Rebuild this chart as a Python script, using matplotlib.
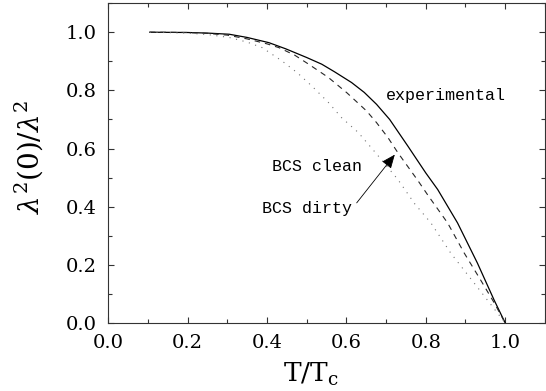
import matplotlib
matplotlib.use("Agg")
import matplotlib.pyplot as plt
from matplotlib.ticker import MultipleLocator

# values
t_exp = [0.105, 0.20, 0.25, 0.305, 0.35, 0.405, 0.447, 0.50, 0.538, 0.57,
         0.613, 0.645, 0.676, 0.709, 0.755, 0.80, 0.83, 0.88, 0.93, 0.972, 1.0]
exp = [1.0, 0.999, 0.997, 0.993, 0.982, 0.964, 0.943, 0.913, 0.89, 0.864,
       0.827, 0.793, 0.752, 0.70, 0.608, 0.516, 0.459, 0.344, 0.206, 0.079, 0.0]

t_clean = [0.105, 0.20, 0.25, 0.30, 0.35, 0.40, 0.43, 0.47, 0.505, 0.555,
           0.601, 0.651, 0.676, 0.705, 0.73, 0.78, 0.805, 0.855, 0.897, 0.938,
           0.972, 1.0]
clean = [1.0, 0.999, 0.996, 0.99, 0.977, 0.96, 0.947, 0.921, 0.89, 0.844,
         0.792, 0.729, 0.689, 0.637, 0.585, 0.49, 0.44, 0.344, 0.24, 0.148,
         0.07, 0.0]

t_dirty = [0.105, 0.20, 0.25, 0.305, 0.35, 0.388, 0.438, 0.476, 0.513, 0.555,
           0.588, 0.63, 0.68, 0.73, 0.772, 0.813, 0.863, 0.922, 0.955, 1.0]
dirty = [1.0, 0.997, 0.992, 0.982, 0.966, 0.947, 0.901, 0.861, 0.815, 0.758,
         0.706, 0.655, 0.575, 0.493, 0.41, 0.344, 0.24, 0.137, 0.079, 0.0]

plt.rcParams["font.family"] = ["DejaVu Serif"]
plt.rcParams["mathtext.fontset"] = "dejavuserif"

fig = plt.figure(figsize=(5.46, 3.91), dpi=100)
ax = fig.add_axes([0.198, 0.174, 0.800, 0.818])

ax.plot(t_exp, exp, color="k", lw=0.9)
ax.plot(t_clean, clean, color="0.15", lw=0.8, dashes=(5, 4.5))
ax.plot(t_dirty, dirty, color="0.45", lw=0.8, dashes=(1, 5))

mono = "Liberation Mono"
ax.text(0.70, 0.766, "experimental", family=mono, fontsize=12, va="baseline")
ax.text(0.413, 0.522, "BCS clean", family=mono, fontsize=12, va="baseline")
ax.text(0.387, 0.378, "BCS dirty", family=mono, fontsize=12, va="baseline")
ax.annotate("", xy=(0.722, 0.579), xytext=(0.626, 0.413),
            arrowprops=dict(arrowstyle="-|>,head_length=0.6,head_width=0.25",
                            mutation_scale=14, color="k", lw=0.6,
                            shrinkA=0, shrinkB=0))

ax.set_xlim(0, 1.1)
ax.set_ylim(0, 1.1)
ax.xaxis.set_minor_locator(MultipleLocator(0.1))
ax.yaxis.set_minor_locator(MultipleLocator(0.1))
ax.set_xticks([0.0, 0.2, 0.4, 0.6, 0.8, 1.0])
ax.set_yticks([0.0, 0.2, 0.4, 0.6, 0.8, 1.0])
ax.xaxis.set_major_formatter(lambda v, p: f"{v:.1f}")
ax.yaxis.set_major_formatter(lambda v, p: f"{v:.1f}")
ax.tick_params(which="both", direction="in", top=True, right=True,
               width=0.8, color="0.2", labelsize=14, pad=8)
ax.tick_params(which="major", length=4.3)
ax.tick_params(which="minor", length=3.2)
for s in ax.spines.values():
    s.set_linewidth(0.8)
    s.set_color("0.2")

ax.set_xlabel(r"$\mathrm{T/T_c}$", fontsize=19)
ax.set_ylabel(r"$\lambda^2(0)/\lambda^2$", fontsize=20)
ax.xaxis.set_label_coords(0.465, -0.118)
ax.yaxis.set_label_coords(-0.144, 0.52)

fig.savefig("out.png", dpi=100)
